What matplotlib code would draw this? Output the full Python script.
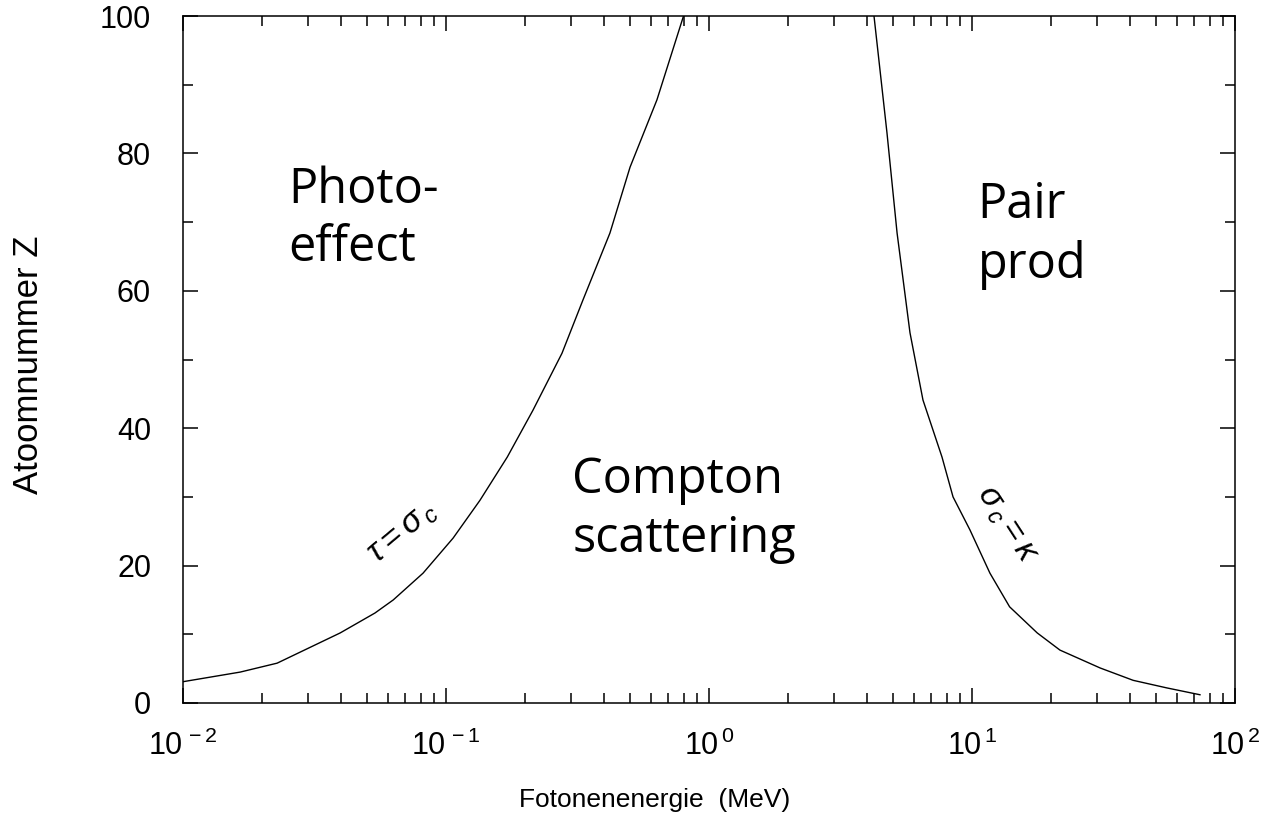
import numpy as np
import matplotlib
matplotlib.use("Agg")
import matplotlib.pyplot as plt
from matplotlib.ticker import LogLocator, FixedLocator, FixedFormatter

plt.rcParams['font.family'] = ['Liberation Sans', 'DejaVu Sans']
plt.rcParams['mathtext.fontset'] = 'custom'
plt.rcParams['mathtext.rm'] = 'Liberation Sans'
plt.rcParams['mathtext.it'] = 'Liberation Sans:italic'

# tau = sigma_c boundary (photo effect vs Compton)
photo_E = [0.01, 0.0165, 0.0228, 0.0396, 0.0537, 0.063, 0.0818, 0.1064, 0.1346,
           0.171, 0.214, 0.276, 0.332, 0.420, 0.501, 0.634, 0.80]
photo_Z = [3.1, 4.5, 5.8, 10.2, 13.1, 15.0, 18.9, 24.0, 29.5,
           35.8, 42.6, 50.9, 58.7, 68.4, 78.0, 87.8, 100]

# sigma_c = kappa boundary (Compton vs pair production)
pair_E = [4.24, 4.75, 5.19, 5.81, 6.51, 7.69, 8.47, 9.82,
          11.7, 13.9, 17.7, 21.6, 30.7, 41.0, 55.0, 73.6]
pair_Z = [100, 83.0, 68.4, 53.9, 44.1, 35.8, 30.0, 25.2,
          18.9, 14.0, 10.2, 7.7, 5.1, 3.3, 2.2, 1.2]

x_ticks = [1e-2, 1e-1, 1e0, 1e1, 1e2]
x_labels = [r'$10^{\,-2}$', r'$10^{\,-1}$', r'$10^{\,0}$', r'$10^{\,1}$', r'$10^{\,2}$']
y_ticks = [0, 20, 40, 60, 80, 100]

fig = plt.figure(figsize=(12.65, 8.27), dpi=100)
ax = fig.add_axes([183 / 1265, 1 - 703 / 827, 1052 / 1265, 687 / 827])

ax.plot(photo_E, photo_Z, color='black', lw=1.0)
ax.plot(pair_E, pair_Z, color='black', lw=1.0)

ax.set_xscale('log')
ax.set_xlim(1e-2, 1e2)
ax.set_ylim(0, 100)

ax.xaxis.set_major_locator(FixedLocator(x_ticks))
ax.xaxis.set_major_formatter(FixedFormatter(x_labels))
ax.xaxis.set_minor_locator(LogLocator(base=10, subs=np.arange(2, 10)))
ax.yaxis.set_major_locator(FixedLocator(y_ticks))
ax.yaxis.set_minor_locator(FixedLocator(np.arange(10, 100, 20)))

for s in ax.spines.values():
    s.set_linewidth(1.1)
ax.tick_params(which='both', direction='in', top=True, right=True, width=1.1)
ax.tick_params(which='major', length=11, labelsize=22)
ax.tick_params(which='minor', length=7)
ax.tick_params(axis='x', which='major', pad=20)
ax.tick_params(axis='y', which='major', pad=23)

ax.set_ylabel('Atoomnummer Z', fontsize=25, va='center')
ax.yaxis.set_label_coords((29 - 183) / 1052, (703 - 365) / 687)
ax.set_xlabel('Fotonenenergie  (MeV)', fontsize=19, va='center')
ax.xaxis.set_label_coords((655 - 183) / 1052, (703 - 800) / 687)

region_font = dict(family='Open Sans', fontsize=35, color='black',
                   ha='left', va='top', linespacing=1.25)
ax.text(0.0251, 78.3, 'Photo-\neffect', **region_font)
ax.text(0.302, 36.0, 'Compton\nscattering', **region_font)
ax.text(10.5, 76.0, 'Pair\nprod', **region_font)

ax.text(0.068, 25.0, r'$\tau = \sigma_{\,c}$', fontsize=24, rotation=40,
        ha='center', va='center', family='DejaVu Sans')
ax.text(13.6, 26.0, r'$\sigma_{\,c} = \kappa$', fontsize=24, rotation=-57,
        ha='center', va='center', family='DejaVu Sans')

fig.savefig('out.png', dpi=100)
